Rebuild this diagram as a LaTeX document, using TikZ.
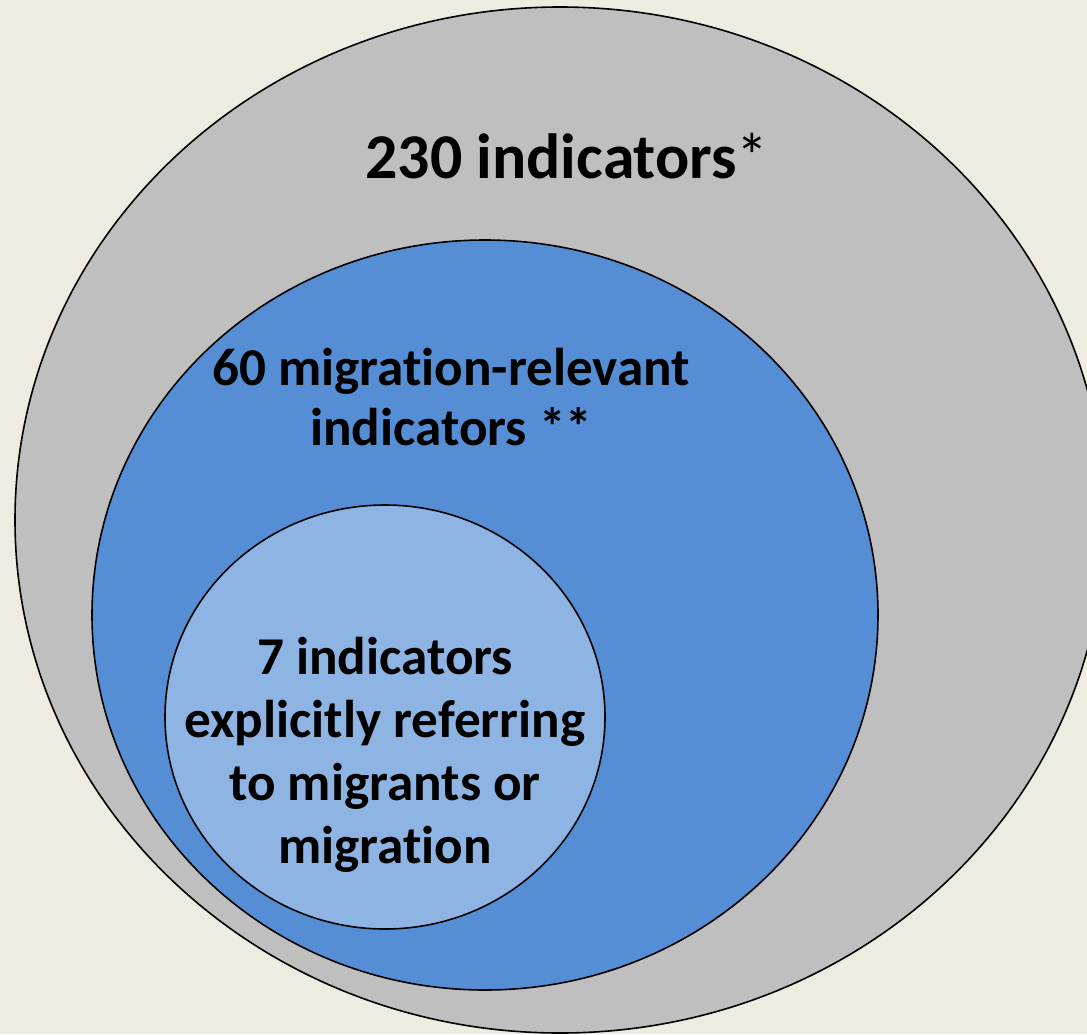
\documentclass[tikz,border=0pt]{standalone}
\usepackage{fontspec}
\setmainfont[Ligatures=NoCommon]{Carlito}
\usetikzlibrary{shapes.geometric, positioning}

\definecolor{paper}{HTML}{EEEBE0}
\definecolor{allgray}{HTML}{BFBFBF}
\definecolor{midblue}{HTML}{558ED5}
\definecolor{paleblue}{HTML}{8EB4E3}

\begin{document}
\begin{tikzpicture}[x=0.5pt, y=-0.5pt,
    set/.style={draw=black, ellipse, line width=0.8pt, inner sep=0pt},
    lbl/.style={font=\bfseries, align=center, anchor=base}]
    % Page background
    \fill[paper] (0,0) rectangle (1087,1034);
    \useasboundingbox (0,0) rectangle (1087,1034);
    \clip (0,0) rectangle (1087,1034);

    % Nested sets
    \node[set, fill=allgray, minimum width=545pt, minimum height=513pt]
        (all) at (560, 520) {};
    \node[set, fill=midblue, minimum width=393pt, minimum height=375pt]
        (relevant) at (485, 615) {};
    \node[set, fill=paleblue, minimum width=220pt, minimum height=212pt]
        (explicit) at (385, 717) {};

    % Labels (base = baseline of the last line)
    \node[lbl, font=\bfseries\fontsize{31.9}{38}\selectfont] (allLbl)
        at (567, 178) {230 indicators{\mdseries*}};
    \node[lbl, font=\bfseries\fontsize{26.6}{30}\selectfont] (relevantLbl)
        at (451, 445) {60 migration-relevant\\indicators **};
    \node[lbl, font=\bfseries\fontsize{26.6}{31.5}\selectfont] (explicitLbl)
        at (385, 863) {7 indicators\\explicitly referring\\to migrants or\\migration};
\end{tikzpicture}
\end{document}
